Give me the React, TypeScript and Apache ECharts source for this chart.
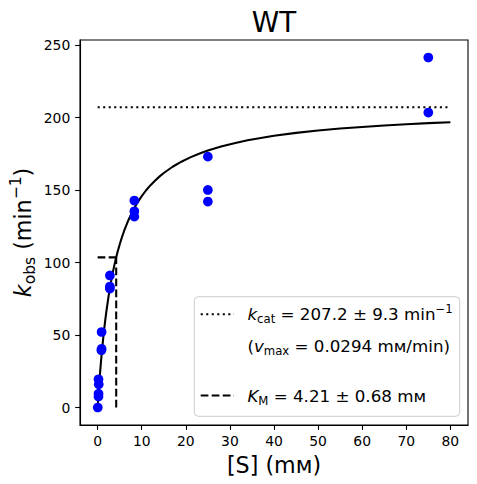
import React, { useEffect, useRef } from "react";
import * as echarts from "echarts";

// Measured substrate concentrations (mM) and observed rates (min^-1)
const substrate = [0.03, 0.2, 0.2, 0.25, 0.2, 0.85, 0.9, 0.9, 2.78, 2.78, 2.78, 8.33, 8.33, 8.33, 25, 25, 25, 75, 75];
const kobs = [0, 7.5, 9.6, 16, 19.5, 39.5, 40.5, 52.1, 82, 83.5, 91.1, 131.7, 135.4, 142.8, 142.1, 150.1, 173.1, 203.5, 241.5];

// Fitted Michaelis–Menten curve
const fitX = [0, 0.1, 0.25, 0.5, 0.75, 1, 1.25, 1.5, 1.75, 2, 2.5, 3, 3.5, 4, 4.5, 5, 5.5, 6, 7, 8, 9, 10, 11, 12, 13, 14, 15, 17, 19, 21, 23, 25, 28, 31, 34, 37, 40, 45, 50, 55, 60, 65, 70, 75, 80];
const fitY = [0, 4.8, 11.6, 22.0, 31.3, 39.8, 47.4, 54.4, 60.8, 66.7, 77.2, 86.2, 94.1, 101.0, 107.1, 112.5, 117.4, 121.8, 129.4, 135.8, 141.2, 145.8, 149.9, 153.4, 156.5, 159.3, 161.8, 166.1, 169.6, 172.6, 175.1, 177.3, 180.1, 182.4, 184.4, 186.0, 187.5, 189.5, 191.1, 192.5, 193.6, 194.6, 195.5, 196.2, 196.8];

// Fit parameters
const kcat = 207.2;
const KM = 4.21;
const halfV = 103.6;
const sMax = 80;

const xTicks = [0, 10, 20, 30, 40, 50, 60, 70, 80];
const yTicks = [0, 50, 100, 150, 200, 250];

const FONT = "DejaVu Sans";
const DOTTED = [2.08, 3.44];
const DASHED = [7.7, 3.33];

export default function App() {
  const ref = useRef<HTMLDivElement>(null);
  useEffect(() => {
    if (!ref.current) return;
    const chart = echarts.init(ref.current, undefined, { renderer: "svg" });

    const legendRich = (fs: number) => ({
      n: { fontFamily: FONT, fontSize: fs, lineHeight: fs * 1.32, verticalAlign: "middle", fill: "#000" },
      i: { fontFamily: FONT, fontSize: fs, fontStyle: "italic", lineHeight: fs * 1.32, verticalAlign: "middle", fill: "#000" },
      sub: { fontFamily: FONT, fontSize: fs * 0.7, lineHeight: fs * 0.7, verticalAlign: "bottom", fill: "#000" },
      sup: { fontFamily: FONT, fontSize: fs * 0.7, lineHeight: fs * 0.7, verticalAlign: "top", fill: "#000" },
    });

    const lfs = 16.7;
    const afs = 22.2;

    chart.setOption({
      animation: false,
      grid: {
        left: 80,
        top: 40,
        width: 388,
        height: 385,
        show: true,
        borderColor: "#000",
        borderWidth: 1.1,
        backgroundColor: "transparent",
      },
      xAxis: {
        type: "value",
        min: -4,
        max: 84,
        splitLine: { show: false },
        axisLine: { show: true, onZero: false, lineStyle: { color: "#000", width: 1.1 } },
        axisTick: { show: true, inside: false, length: 4.86, customValues: xTicks, lineStyle: { color: "#000", width: 1.1 } },
        axisLabel: { customValues: xTicks, color: "#000", fontFamily: FONT, fontSize: 13.9, margin: 9 },
      },
      yAxis: {
        type: "value",
        min: -12.075,
        max: 253.575,
        splitLine: { show: false },
        axisLine: { show: true, onZero: false, lineStyle: { color: "#000", width: 1.1 } },
        axisTick: { show: true, inside: false, length: 4.86, customValues: yTicks, lineStyle: { color: "#000", width: 1.1 } },
        axisLabel: { customValues: yTicks, color: "#000", fontFamily: FONT, fontSize: 13.9, margin: 9.7 },
      },
      series: [
        {
          type: "line",
          data: fitX.map((x, i) => [x, fitY[i]]),
          smooth: false,
          symbol: "none",
          lineStyle: { color: "#000", width: 2.08, join: "round" },
          z: 2,
        },
        {
          type: "line",
          data: [[0, kcat], [sMax, kcat]],
          symbol: "none",
          lineStyle: { color: "#000", width: 2.08, type: DOTTED },
          z: 2,
        },
        {
          type: "line",
          data: [[0, halfV], [KM, halfV]],
          symbol: "none",
          lineStyle: { color: "#000", width: 2.08, type: DASHED },
          z: 2,
        },
        {
          type: "line",
          data: [[KM, 0], [KM, halfV]],
          symbol: "none",
          lineStyle: { color: "#000", width: 2.08, type: DASHED },
          z: 2,
        },
        {
          type: "scatter",
          data: substrate.map((x, i) => [x, kobs[i]]),
          symbol: "circle",
          symbolSize: 9.7,
          itemStyle: { color: "#0000ff", opacity: 1 },
          z: 3,
        },
      ],
      graphic: [
        {
          type: "text",
          x: 274,
          y: 22,
          style: { text: "WT", fontFamily: FONT, fontSize: 27.8, fill: "#000", align: "center", verticalAlign: "middle" },
        },
        {
          type: "text",
          x: 274,
          y: 465,
          style: { text: "[S] (mᴍ)", fontFamily: FONT, fontSize: afs, fill: "#000", align: "center", verticalAlign: "middle" },
        },
        {
          type: "text",
          x: 23,
          y: 232.5,
          rotation: Math.PI / 2,
          style: {
            text: "{i|k}{sub|obs}{n| (min}{sup|−1}{n|)}",
            rich: legendRich(afs),
            fontFamily: FONT,
            fontSize: afs,
            align: "center",
            verticalAlign: "middle",
          },
        },
        {
          type: "rect",
          shape: { x: 194.3, y: 296.7, width: 265.4, height: 119.6, r: 4 },
          style: { fill: "rgba(255,255,255,0.8)", stroke: "#cccccc", lineWidth: 1 },
          z: 10,
        },
        {
          type: "line",
          shape: { x1: 200.7, y1: 314.3, x2: 234, y2: 314.3 },
          style: { stroke: "#000", lineWidth: 2.08, lineDash: DOTTED },
          z: 11,
        },
        {
          type: "line",
          shape: { x1: 200.7, y1: 395.5, x2: 234, y2: 395.5 },
          style: { stroke: "#000", lineWidth: 2.08, lineDash: DASHED },
          z: 11,
        },
        {
          type: "text",
          x: 247.4,
          y: 314.2,
          z: 11,
          style: {
            text: "{i|k}{sub|cat}{n| = 207.2 ± 9.3 min}{sup|−1}",
            rich: legendRich(lfs),
            fontFamily: FONT,
            fontSize: lfs,
            align: "left",
            verticalAlign: "middle",
          },
        },
        {
          type: "text",
          x: 247.4,
          y: 345.7,
          z: 11,
          style: {
            text: "{n|(}{i|v}{sub|max}{n| = 0.0294 mᴍ/min)}",
            rich: legendRich(lfs),
            fontFamily: FONT,
            fontSize: lfs,
            align: "left",
            verticalAlign: "middle",
          },
        },
        {
          type: "text",
          x: 247.4,
          y: 395.7,
          z: 11,
          style: {
            text: "{i|K}{sub|M}{n| = 4.21 ± 0.68 mᴍ}",
            rich: legendRich(lfs),
            fontFamily: FONT,
            fontSize: lfs,
            align: "left",
            verticalAlign: "middle",
          },
        },
      ],
    });
    return () => chart.dispose();
  }, []);

  return (
    <div
      ref={ref}
      style={{ position: "fixed", left: 0, top: 0, width: 477, height: 484, background: "#fff" }}
    />
  );
}
